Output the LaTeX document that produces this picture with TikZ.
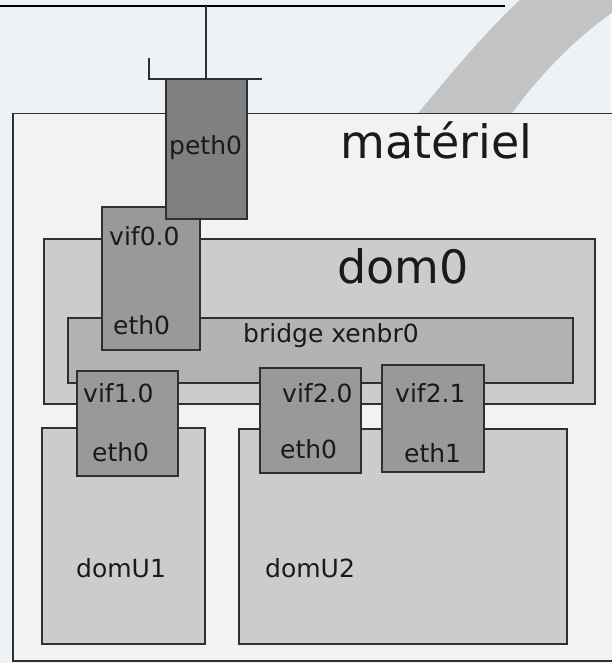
\documentclass[tikz,border=0pt]{standalone}
\usepackage{fontspec}
\setmainfont{DejaVu Sans}
\definecolor{bg}{HTML}{EDF2F6}
\definecolor{arcgray}{HTML}{C3C3C3}
\definecolor{hw}{HTML}{F2F2F2}
\definecolor{domfill}{HTML}{CCCCCC}
\definecolor{brfill}{HTML}{B3B3B3}
\definecolor{iffill}{HTML}{999999}
\definecolor{phyfill}{HTML}{808080}
\definecolor{boxline}{HTML}{303030}
\definecolor{txt}{HTML}{1A1A1A}
\begin{document}
\begin{tikzpicture}[x=1pt,y=-1pt,
  box/.style={draw=boxline, line width=1.5pt, inner sep=0pt, anchor=north west},
  wire/.style={draw=boxline, line width=1.4pt},
  lbl/.style={anchor=base west, inner sep=0pt, text=txt, font=\fontsize{25}{25}\selectfont},
  biglbl/.style={anchor=base west, inner sep=0pt, text=txt, font=\fontsize{46}{46}\selectfont}]
  % canvas
  \fill[bg] (0,0) rectangle (611,663);
  \useasboundingbox (0,0) rectangle (611,663);
  % wide grey band behind the machine
  \fill[arcgray] (418,113) .. controls (448,78) and (480,37) .. (522,-2)
    -- (616,-2) -- (616,10) .. controls (575,38) and (540,75) .. (512,113) -- cycle;
  % physical network
  \coordinate (netL) at (0,6);
  \coordinate (netR) at (505,6);
  \coordinate (tap) at (206,6);
  \draw[line width=2pt, black] (netL) -- (netR);
  % hardware
  \node[box, fill=hw, minimum width=603pt, minimum height=547pt] (materiel) at (12,113) {};
  \node[biglbl] (materielT) at (340,158) {matériel};
  % dom0 and its bridge
  \node[box, fill=domfill, minimum width=551pt, minimum height=165pt] (dom0) at (43,238) {};
  \node[biglbl] (dom0T) at (337,283) {dom0};
  \node[box, fill=brfill, minimum width=505pt, minimum height=65pt] (bridge) at (67,317) {};
  \node[lbl] (bridgeT) at (243,342) {bridge xenbr0};
  % guest domains
  \node[box, fill=domfill, minimum width=163pt, minimum height=216pt] (domU1) at (41,427) {};
  \node[lbl] (domU1T) at (76,577) {domU1};
  \node[box, fill=domfill, minimum width=328pt, minimum height=215pt] (domU2) at (238,428) {};
  \node[lbl] (domU2T) at (265,577) {domU2};
  % dom0 interface
  \node[box, fill=iffill, minimum width=98pt, minimum height=143pt] (vif00) at (101,206) {};
  \node[lbl] at (109,245) {vif0.0};
  \node[lbl] at (113,334) {eth0};
  % physical interface
  \node[box, fill=phyfill, minimum width=81pt, minimum height=139pt] (peth0) at (165,79) {};
  \node[lbl] at (169,154) {peth0};
  \coordinate (brk) at (149,58);
  \coordinate (brkR) at (262,79);
  \draw[wire] (brk) |- (brkR);
  \draw[wire] (tap) -- (tap |- peth0.north);
  % guest interfaces
  \node[box, fill=iffill, minimum width=101pt, minimum height=105pt] (vif10) at (76,370) {};
  \node[lbl] at (83,402) {vif1.0};
  \node[lbl] at (92,461) {eth0};
  \node[box, fill=iffill, minimum width=101pt, minimum height=105pt] (vif20) at (259,367) {};
  \node[lbl] at (282,402) {vif2.0};
  \node[lbl] at (280,458) {eth0};
  \node[box, fill=iffill, minimum width=102pt, minimum height=107pt] (vif21) at (381,364) {};
  \node[lbl] at (395,402) {vif2.1};
  \node[lbl] at (404,462) {eth1};
\end{tikzpicture}
\end{document}
